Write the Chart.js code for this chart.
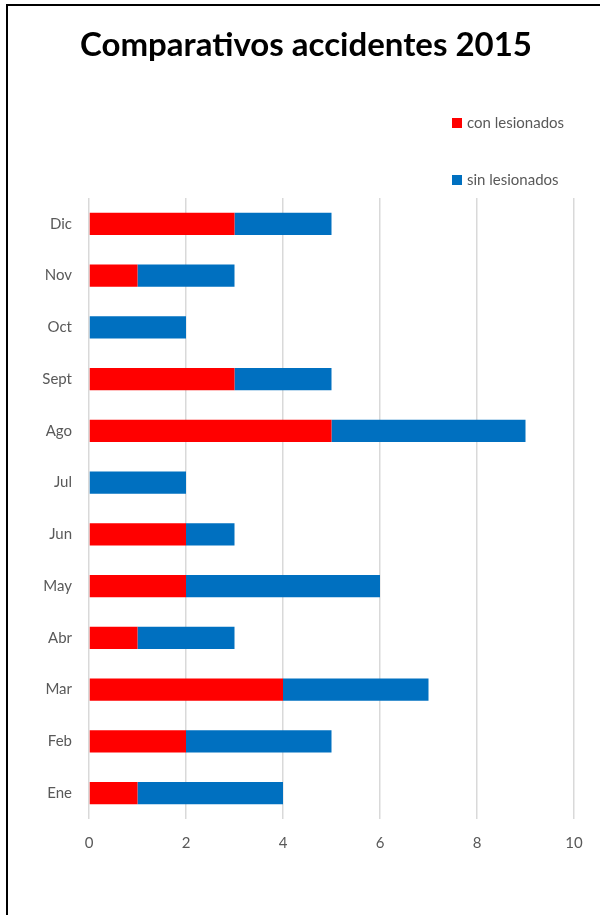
<!DOCTYPE html>
<html>
<head>
<meta charset="utf-8">
<script src="https://cdn.jsdelivr.net/npm/chart.js@4.4.1/dist/chart.umd.min.js"></script>
<style>
  html, body { margin: 0; padding: 0; background: #fff; }
  #wrap { position: relative; width: 600px; height: 915px; overflow: hidden; }
  #frame { position: absolute; left: 6px; top: 4px; width: 700px; height: 1000px; border-left: 2px solid #000; border-top: 2px solid #000; }
  #title { position: absolute; left: 0; width: 612px; top: 23px; text-align: center; font-family: Lato, "Open Sans", sans-serif; font-weight: bold; font-size: 33px; color: #000; }
  .leg { position: absolute; font-family: Lato, "Open Sans", sans-serif; font-size: 15px; color: #595959; white-space: nowrap; }
  .leg span { display: inline-block; width: 10px; height: 10px; margin-right: 5px; vertical-align: 0px; }
  canvas { position: absolute; left: 0; top: 0; }
</style>
</head>
<body>
<div id="wrap">
  <canvas id="c" width="600" height="915"></canvas>
  <div id="frame"></div>
  <div id="title">Comparativos accidentes 2015</div>
  <div class="leg" id="leg1" style="left:452px; top:113px;"><span style="background:#ff0000"></span>con lesionados</div>
  <div class="leg" id="leg2" style="left:452px; top:170px;"><span style="background:#0070c0"></span>sin lesionados</div>
</div>
<script>
const categories = ["Ene", "Feb", "Mar", "Abr", "May", "Jun", "Jul", "Ago", "Sept", "Oct", "Nov", "Dic"];
const conLesionados = [1, 2, 4, 1, 2, 2, 0, 5, 3, 0, 1, 3];
const sinLesionados = [3, 3, 3, 2, 4, 1, 2, 4, 2, 2, 2, 2];
const xTicks = [0, 2, 4, 6, 8, 10];
const seriesNames = ["con lesionados", "sin lesionados"];

const font = "Lato, 'Open Sans', sans-serif";

new Chart(document.getElementById('c'), {
  type: 'bar',
  data: {
    labels: categories,
    datasets: [
      { label: seriesNames[0], data: conLesionados, backgroundColor: '#ff0000', borderWidth: 0 },
      { label: seriesNames[1], data: sinLesionados, backgroundColor: '#0070c0', borderWidth: 0 }
    ]
  },
  options: {
    responsive: false,
    animation: false,
    indexAxis: 'y',
    layout: { padding: { left: 10, right: 26, top: 198, bottom: 56 } },
    plugins: { legend: { display: false }, title: { display: false }, tooltip: { enabled: false } },
    datasets: { bar: { categoryPercentage: 0.43, barPercentage: 1.0 } },
    scales: {
      x: {
        stacked: true,
        min: 0, max: 10,
        afterBuildTicks: (axis) => { axis.ticks = xTicks.map(v => ({ value: v })); },
        afterFit: (axis) => { axis.height = 40; },
        grid: { color: '#d9d9d9', lineWidth: 1.5, drawTicks: false },
        border: { display: false },
        ticks: { color: '#595959', font: { family: font, size: 15 }, padding: 15 }
      },
      y: {
        stacked: true,
        reverse: true,
        afterFit: (axis) => { axis.width = 79; },
        grid: { display: false, drawTicks: false },
        border: { display: false },
        ticks: { color: '#595959', font: { family: font, size: 15 }, padding: 17 }
      }
    }
  }
});
</script>
</body>
</html>
